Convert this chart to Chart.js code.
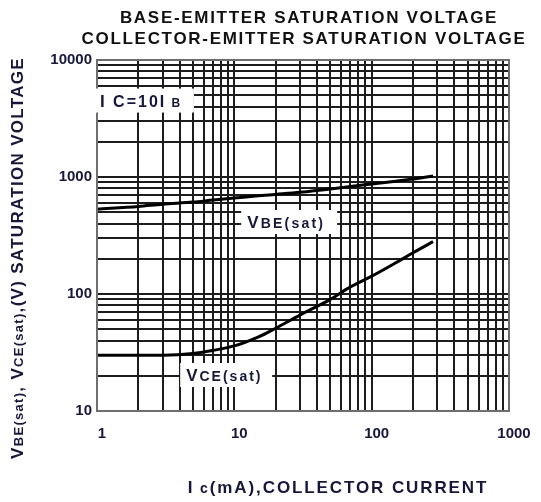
<!DOCTYPE html>
<html>
<head>
<meta charset="utf-8">
<script src="https://cdn.jsdelivr.net/npm/chart.js@4"></script>
<style>
  html, body { margin: 0; padding: 0; background: #fff; }
  #wrap { width: 541px; height: 502px; }
</style>
</head>
<body>
<div id="wrap"><canvas id="chart"></canvas></div>
<script>
// collector current, mA
const icCurrent = [1, 2, 3, 5, 7, 10, 15, 20, 30, 50, 70, 100, 150, 200, 280]
// saturation voltages, mV
const vbeSat = [530, 560, 585, 610, 635, 660, 690, 710, 740, 790, 830, 870, 920, 960, 1020]
const vceSat = [30, 30, 30, 31, 33, 36, 43, 51, 66, 90, 115, 142, 185, 225, 280]

const xMajor = [1, 10, 100, 1000]
const yMajor = [10, 100, 1000, 10000]

const ink = '#17173a'
const FONT = "'Liberation Sans', Arial, sans-serif"

// every 1..9 step between decades, for the grid
function gridValues(major) {
    let out = []
    major.forEach((m, i) => {
        if (i == major.length - 1) { out.push(m); return }
        for (let k = 1; k < 10; k++) out.push(m * k)
    })
    return out
}

function points(ys) {
    return icCurrent.map((x, i) => ({ x: x, y: ys[i] }))
}

function measureRuns(ctx, runs, spacing) {
    ctx.letterSpacing = spacing + 'px'
    let total = 0
    runs.forEach(r => {
        ctx.font = 'bold ' + r.size + 'px ' + FONT
        r.w = ctx.measureText(r.t).width
        total += r.w
    })
    return total
}

// text made of runs in different sizes (for the subscripts), centred on x
function drawRuns(ctx, runs, x, y, spacing) {
    let total = measureRuns(ctx, runs, spacing)
    let cx = x - total / 2
    ctx.textAlign = 'left'
    ctx.textBaseline = 'alphabetic'
    runs.forEach(r => {
        ctx.font = 'bold ' + r.size + 'px ' + FONT
        ctx.fillText(r.t, cx, y)
        cx += r.w
    })
    ctx.letterSpacing = '0px'
    return total
}

function boxedLabel(chart, xv, yv, runs, boxW, boxH, spacing) {
    const ctx = chart.ctx
    const px = chart.scales.x.getPixelForValue(xv)
    const py = chart.scales.y.getPixelForValue(yv)
    ctx.fillStyle = '#fff'
    ctx.fillRect(px - 6, py - boxH / 2, boxW, boxH)
    ctx.fillStyle = ink
    let total = measureRuns(ctx, runs, spacing)
    drawRuns(ctx, runs, px + total / 2, py + 6, spacing)
}

const decor = {
    id: 'decor',
    beforeDraw(chart) {
        const ctx = chart.ctx
        ctx.save()
        ctx.fillStyle = '#fff'
        ctx.fillRect(0, 0, chart.width, chart.height)
        ctx.restore()
    },
    afterDatasetsDraw(chart) {
        const ctx = chart.ctx
        const a = chart.chartArea
        ctx.save()
        ctx.strokeStyle = '#6e6e6e'
        ctx.lineWidth = 2
        ctx.strokeRect(a.left, a.top, a.right - a.left, a.bottom - a.top)

        boxedLabel(chart, 1.05, 4500, [{ t: 'I', size: 17 }, { t: ' C=10I', size: 16 }, { t: ' B', size: 12 }], 100, 24, 2)
        boxedLabel(chart, 12.4, 412, [{ t: 'V', size: 17 }, { t: 'BE(sat)', size: 14 }], 96, 24, 2.2)
        boxedLabel(chart, 4.46, 20.3, [{ t: 'V', size: 17 }, { t: 'CE(sat)', size: 14 }], 92, 24, 2)
        ctx.restore()
    },
    afterDraw(chart) {
        const ctx = chart.ctx
        ctx.save()
        ctx.fillStyle = '#111'
        drawRuns(ctx, [{ t: 'BASE-EMITTER SATURATION VOLTAGE', size: 17 }], 309, 23, 1.7)
        drawRuns(ctx, [{ t: 'COLLECTOR-EMITTER SATURATION VOLTAGE', size: 17 }], 304, 44, 1.7)

        ctx.fillStyle = ink
        drawRuns(ctx, [{ t: 'I', size: 17 }, { t: ' c', size: 14 }, { t: '(mA),COLLECTOR CURRENT', size: 17 }], 338, 493, 1.9)

        ctx.translate(23, 258)
        ctx.rotate(-Math.PI / 2)
        drawRuns(ctx, [
            { t: 'V', size: 17 }, { t: 'BE(sat)', size: 13 },
            { t: ', V', size: 17 }, { t: 'CE(sat)', size: 13 },
            { t: ',(V) SATURATION VOLTAGE', size: 17 }
        ], 0, 0, 1.3)
        ctx.restore()
    }
}

function logAxis(major, min, max) {
    return {
        type: 'logarithmic',
        min: min,
        max: max,
        afterBuildTicks: (scale) => {
            scale.ticks = gridValues(major).map(v => ({ value: v }))
        },
        grid: {
            color: '#1c1c1c',
            lineWidth: 2,
            drawTicks: false
        },
        border: { display: false },
        ticks: {
            autoSkip: false,
            maxRotation: 0,
            color: ink,
            font: { family: FONT, size: 15, weight: 'bold' },
            callback: (value) => major.includes(value) ? String(value) : ''
        }
    }
}

let xAxis = logAxis(xMajor, 1, 1000)
xAxis.ticks.padding = 14
xAxis.ticks.labelOffset = 5
xAxis.afterFit = (s) => { s.height = 91 }

let yAxis = logAxis(yMajor, 10, 10000)
yAxis.ticks.padding = 5
yAxis.afterFit = (s) => { s.width = 97 }

new Chart(document.getElementById('chart'), {
    type: 'line',
    data: {
        datasets: [
            {
                label: 'VBE(sat)',
                data: points(vbeSat),
                borderColor: '#000',
                borderWidth: 3,
                pointRadius: 0,
                cubicInterpolationMode: 'monotone'
            },
            {
                label: 'VCE(sat)',
                data: points(vceSat),
                borderColor: '#000',
                borderWidth: 3,
                pointRadius: 0,
                cubicInterpolationMode: 'monotone'
            }
        ]
    },
    options: {
        responsive: true,
        maintainAspectRatio: false,
        animation: false,
        layout: { padding: { top: 60, right: 32, left: 0, bottom: 0 } },
        scales: { x: xAxis, y: yAxis },
        plugins: {
            legend: { display: false },
            tooltip: { enabled: false }
        }
    },
    plugins: [decor]
});
</script>
</body>
</html>
